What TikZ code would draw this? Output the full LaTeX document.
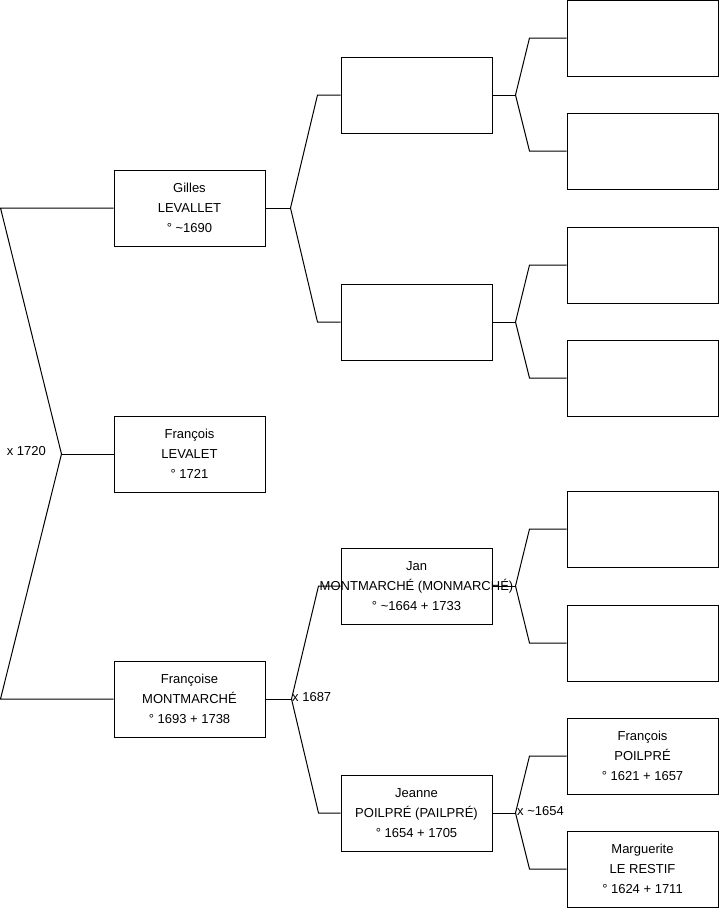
\documentclass[tikz,border=0pt]{standalone}
\usepackage{fontspec}
\setmainfont{Liberation Sans}
\usetikzlibrary{backgrounds}
\begin{document}
\begin{tikzpicture}[x=1pt,y=-1pt,
  person/.style={draw=black, line width=1pt, fill=white, minimum width=151pt, minimum height=76pt, inner sep=0pt, align=center, font=\fontsize{13}{20}\selectfont},
  link/.style={draw=black, line width=1pt},
  lbl/.style={font=\fontsize{13}{15}\selectfont, inner sep=0pt}]
\useasboundingbox (0,0) rectangle (719,908);
% column 1
\node[person] (gilles) at (189.5,208) {Gilles\\LEVALLET\\° \textasciitilde 1690};
\node[person] (francois) at (189.5,454) {François\\LEVALET\\° 1721};
\node[person] (francoise) at (189.5,699) {Françoise\\MONTMARCHÉ\\° 1693 + 1738};
% column 2
\node[person] (b1) at (416.5,95) {};
\node[person] (b2) at (416.5,322) {};
\node[person] (jan) at (416.5,586) {Jan\\\makebox[0pt]{MONTMARCHÉ (MONMARCHÉ)}\\° \textasciitilde 1664 + 1733};
\node[person] (jeanne) at (416.5,813) {Jeanne\\POILPRÉ (PAILPRÉ)\\° 1654 + 1705};
% column 3
\node[person] (c1) at (642.5,38) {};
\node[person] (c2) at (642.5,151) {};
\node[person] (c3) at (642.5,265) {};
\node[person] (c4) at (642.5,378) {};
\node[person] (c5) at (642.5,529) {};
\node[person] (c6) at (642.5,643) {};
\node[person] (fp) at (642.5,756) {François\\POILPRÉ\\° 1621 + 1657};
\node[person] (mlr) at (642.5,869) {Marguerite\\LE RESTIF\\° 1624 + 1711};
% labels
\node[lbl, anchor=east] (m1) at (46,451) {x 1720};
\node[lbl, anchor=west] (m2) at (292,697) {x 1687};
\node[lbl, anchor=west] (m3) at (517,811) {x \textasciitilde 1654};
\begin{scope}[on background layer]
% root
\coordinate (rv) at ([xshift=-52pt]francois.west);
\draw[link] (gilles.west) -- ([xshift=-113pt]gilles.west) -- (rv) -- ([xshift=-113pt]francoise.west) -- (francoise.west);
\draw[link] (rv) -- (francois.west);
% Gilles
\coordinate (gv) at ([xshift=25pt]gilles.east);
\draw[link] (gilles.east) -- (gv);
\draw[link] (gv) -- ([xshift=-23pt]b1.west) -- (b1.west);
\draw[link] (gv) -- ([xshift=-23pt]b2.west) -- (b2.west);
% Francoise
\coordinate (fv) at ([xshift=26pt]francoise.east);
\draw[link] (francoise.east) -- (fv);
\draw[link] (fv) -- ([xshift=-22pt]jan.west) -- (jan.west);
\draw[link] (fv) -- ([xshift=-22pt]jeanne.west) -- (jeanne.west);
% column 2 -> column 3
\coordinate (v1) at ([xshift=23pt]b1.east);
\draw[link] (b1.east) -- (v1);
\draw[link] (v1) -- ([xshift=-37pt]c1.west) -- (c1.west);
\draw[link] (v1) -- ([xshift=-37pt]c2.west) -- (c2.west);
\coordinate (v2) at ([xshift=23pt]b2.east);
\draw[link] (b2.east) -- (v2);
\draw[link] (v2) -- ([xshift=-37pt]c3.west) -- (c3.west);
\draw[link] (v2) -- ([xshift=-37pt]c4.west) -- (c4.west);
\coordinate (v3) at ([xshift=23pt]jan.east);
\draw[link] (jan.east) -- (v3);
\draw[link] (v3) -- ([xshift=-37pt]c5.west) -- (c5.west);
\draw[link] (v3) -- ([xshift=-37pt]c6.west) -- (c6.west);
\coordinate (v4) at ([xshift=23pt]jeanne.east);
\draw[link] (jeanne.east) -- (v4);
\draw[link] (v4) -- ([xshift=-37pt]fp.west) -- (fp.west);
\draw[link] (v4) -- ([xshift=-37pt]mlr.west) -- (mlr.west);
\end{scope}
\end{tikzpicture}
\end{document}
